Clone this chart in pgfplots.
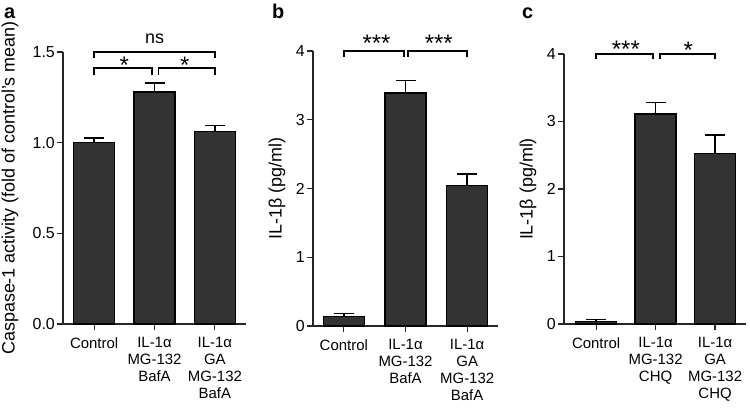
\documentclass[border=0pt]{standalone}
\usepackage{fontspec}
\setmainfont{Liberation Sans}
\usepackage{pgfplots}
\pgfplotsset{compat=1.18}
\definecolor{barfill}{HTML}{333333}
\pgfplotsset{
  panel/.style={
    scale only axis,
    axis lines=left,
    axis line style={-, line width=1.2bp, black!85},
    tick style={line width=1.2bp, black!85},
    tick align=outside,
    major tick length=6bp,
    ybar,
    bar width=41bp,
    ymin=0,
    clip=false,
    xtick={0,1,2},
    /pgf/number format/assume math mode=true,
    yticklabel style={font=\fontsize{16}{16}\selectfont, inner sep=2bp},
    xticklabel style={font=\fontsize{15}{16.8}\selectfont, align=center, yshift=-4bp},
    ylabel style={font=\fontsize{18}{18}\selectfont, anchor=center},
  },
  bars/.style={
    fill=barfill, draw=black, line width=1.3bp,
    error bars/.cd, y dir=plus, y explicit,
    error bar style={line width=1.5bp, black},
    error mark options={line width=1.5bp, mark size=10bp, black, rotate=90},
  },
}
\tikzset{
  brk/.style={line width=1.8bp, black},
  star/.style={anchor=base, inner sep=0pt, font=\fontsize{24}{24}\selectfont},
}
\begin{document}
\begin{tikzpicture}
\useasboundingbox (0,0) rectangle (750bp,415bp);
% ---- panel a ----
\begin{axis}[panel, at={(63bp,91bp)}, anchor=south west,
  width=183bp, height=272bp,
  xmin=-0.515, xmax=2.515, ymax=1.5,
  ytick={0,0.5,1,1.5},
  yticklabel style={/pgf/number format/fixed, /pgf/number format/fixed zerofill, /pgf/number format/precision=1},
  xticklabels={Control,{IL-1α\\MG-132\\BafA},{IL-1α\\GA\\MG-132\\BafA}},
  ylabel={Caspase-1 activity (fold of control's mean)},
  ylabel style={at={(axis description cs:-0.29,0.5)}},
]
\addplot[bars] table[x=x, y=y, y error=e] {
x y e
0 1.00 0.025
1 1.28 0.048
2 1.06 0.035
};
\draw[brk] (axis cs:0,1.375) -- (axis cs:0,1.41) -- (axis cs:0.965,1.41) -- (axis cs:0.965,1.375);
\draw[brk] (axis cs:1.065,1.375) -- (axis cs:1.065,1.41) -- (axis cs:2,1.41) -- (axis cs:2,1.375);
\draw[brk] (axis cs:0,1.467) -- (axis cs:0,1.5) -- (axis cs:2,1.5) -- (axis cs:2,1.467);
\node[star] at (axis cs:0.5,1.379) {*};
\node[star] at (axis cs:1.5,1.379) {*};
\node[anchor=base, inner sep=0pt, font=\fontsize{18}{18}\selectfont] at (axis cs:1,1.548) {ns};
\end{axis}
% ---- panel b ----
\begin{axis}[panel, at={(313bp,89bp)}, anchor=south west,
  width=185bp, height=275bp,
  xmin=-0.5, xmax=2.5, ymax=4,
  ytick={0,1,2,3,4},
  xticklabels={Control,{IL-1α\\MG-132\\BafA},{IL-1α\\GA\\MG-132\\BafA}},
  ylabel={IL-1β (pg/ml)},
  ylabel style={at={(axis description cs:-0.195,0.5)}},
]
\addplot[bars] table[x=x, y=y, y error=e] {
x y e
0 0.14 0.04
1 3.39 0.18
2 2.04 0.17
};
\draw[brk] (axis cs:0,3.91) -- (axis cs:0,4) -- (axis cs:0.97,4) -- (axis cs:0.97,3.91);
\draw[brk] (axis cs:1.04,3.91) -- (axis cs:1.04,4) -- (axis cs:2,4) -- (axis cs:2,3.91);
\node[star] at (axis cs:0.53,4.0) {***};
\node[star] at (axis cs:1.54,4.0) {***};
\end{axis}
% ---- panel c ----
\begin{axis}[panel, at={(564bp,91bp)}, anchor=south west,
  width=182bp, height=270bp,
  xmin=-0.54, xmax=2.52, ymax=4,
  ytick={0,1,2,3,4},
  xticklabels={Control,{IL-1α\\MG-132\\CHQ},{IL-1α\\GA\\MG-132\\CHQ}},
  ylabel={IL-1β (pg/ml)},
  ylabel style={at={(axis description cs:-0.198,0.5)}},
]
\addplot[bars] table[x=x, y=y, y error=e] {
x y e
0 0.04 0.03
1 3.11 0.17
2 2.53 0.27
};
\draw[brk] (axis cs:0,3.92) -- (axis cs:0,4) -- (axis cs:0.95,4) -- (axis cs:0.95,3.92);
\draw[brk] (axis cs:1.07,3.92) -- (axis cs:1.07,4) -- (axis cs:2,4) -- (axis cs:2,3.92);
\node[star] at (axis cs:0.5,3.946) {***};
\node[star] at (axis cs:1.55,3.926) {*};
\end{axis}
% panel letters
\node[anchor=base west, inner sep=0pt, font=\bfseries\fontsize{20}{20}\selectfont] at (4bp,396.5bp) {a};
\node[anchor=base west, inner sep=0pt, font=\bfseries\fontsize{20}{20}\selectfont] at (272bp,396.5bp) {b};
\node[anchor=base west, inner sep=0pt, font=\bfseries\fontsize{20}{20}\selectfont] at (522bp,396.5bp) {c};
\end{tikzpicture}
\end{document}
